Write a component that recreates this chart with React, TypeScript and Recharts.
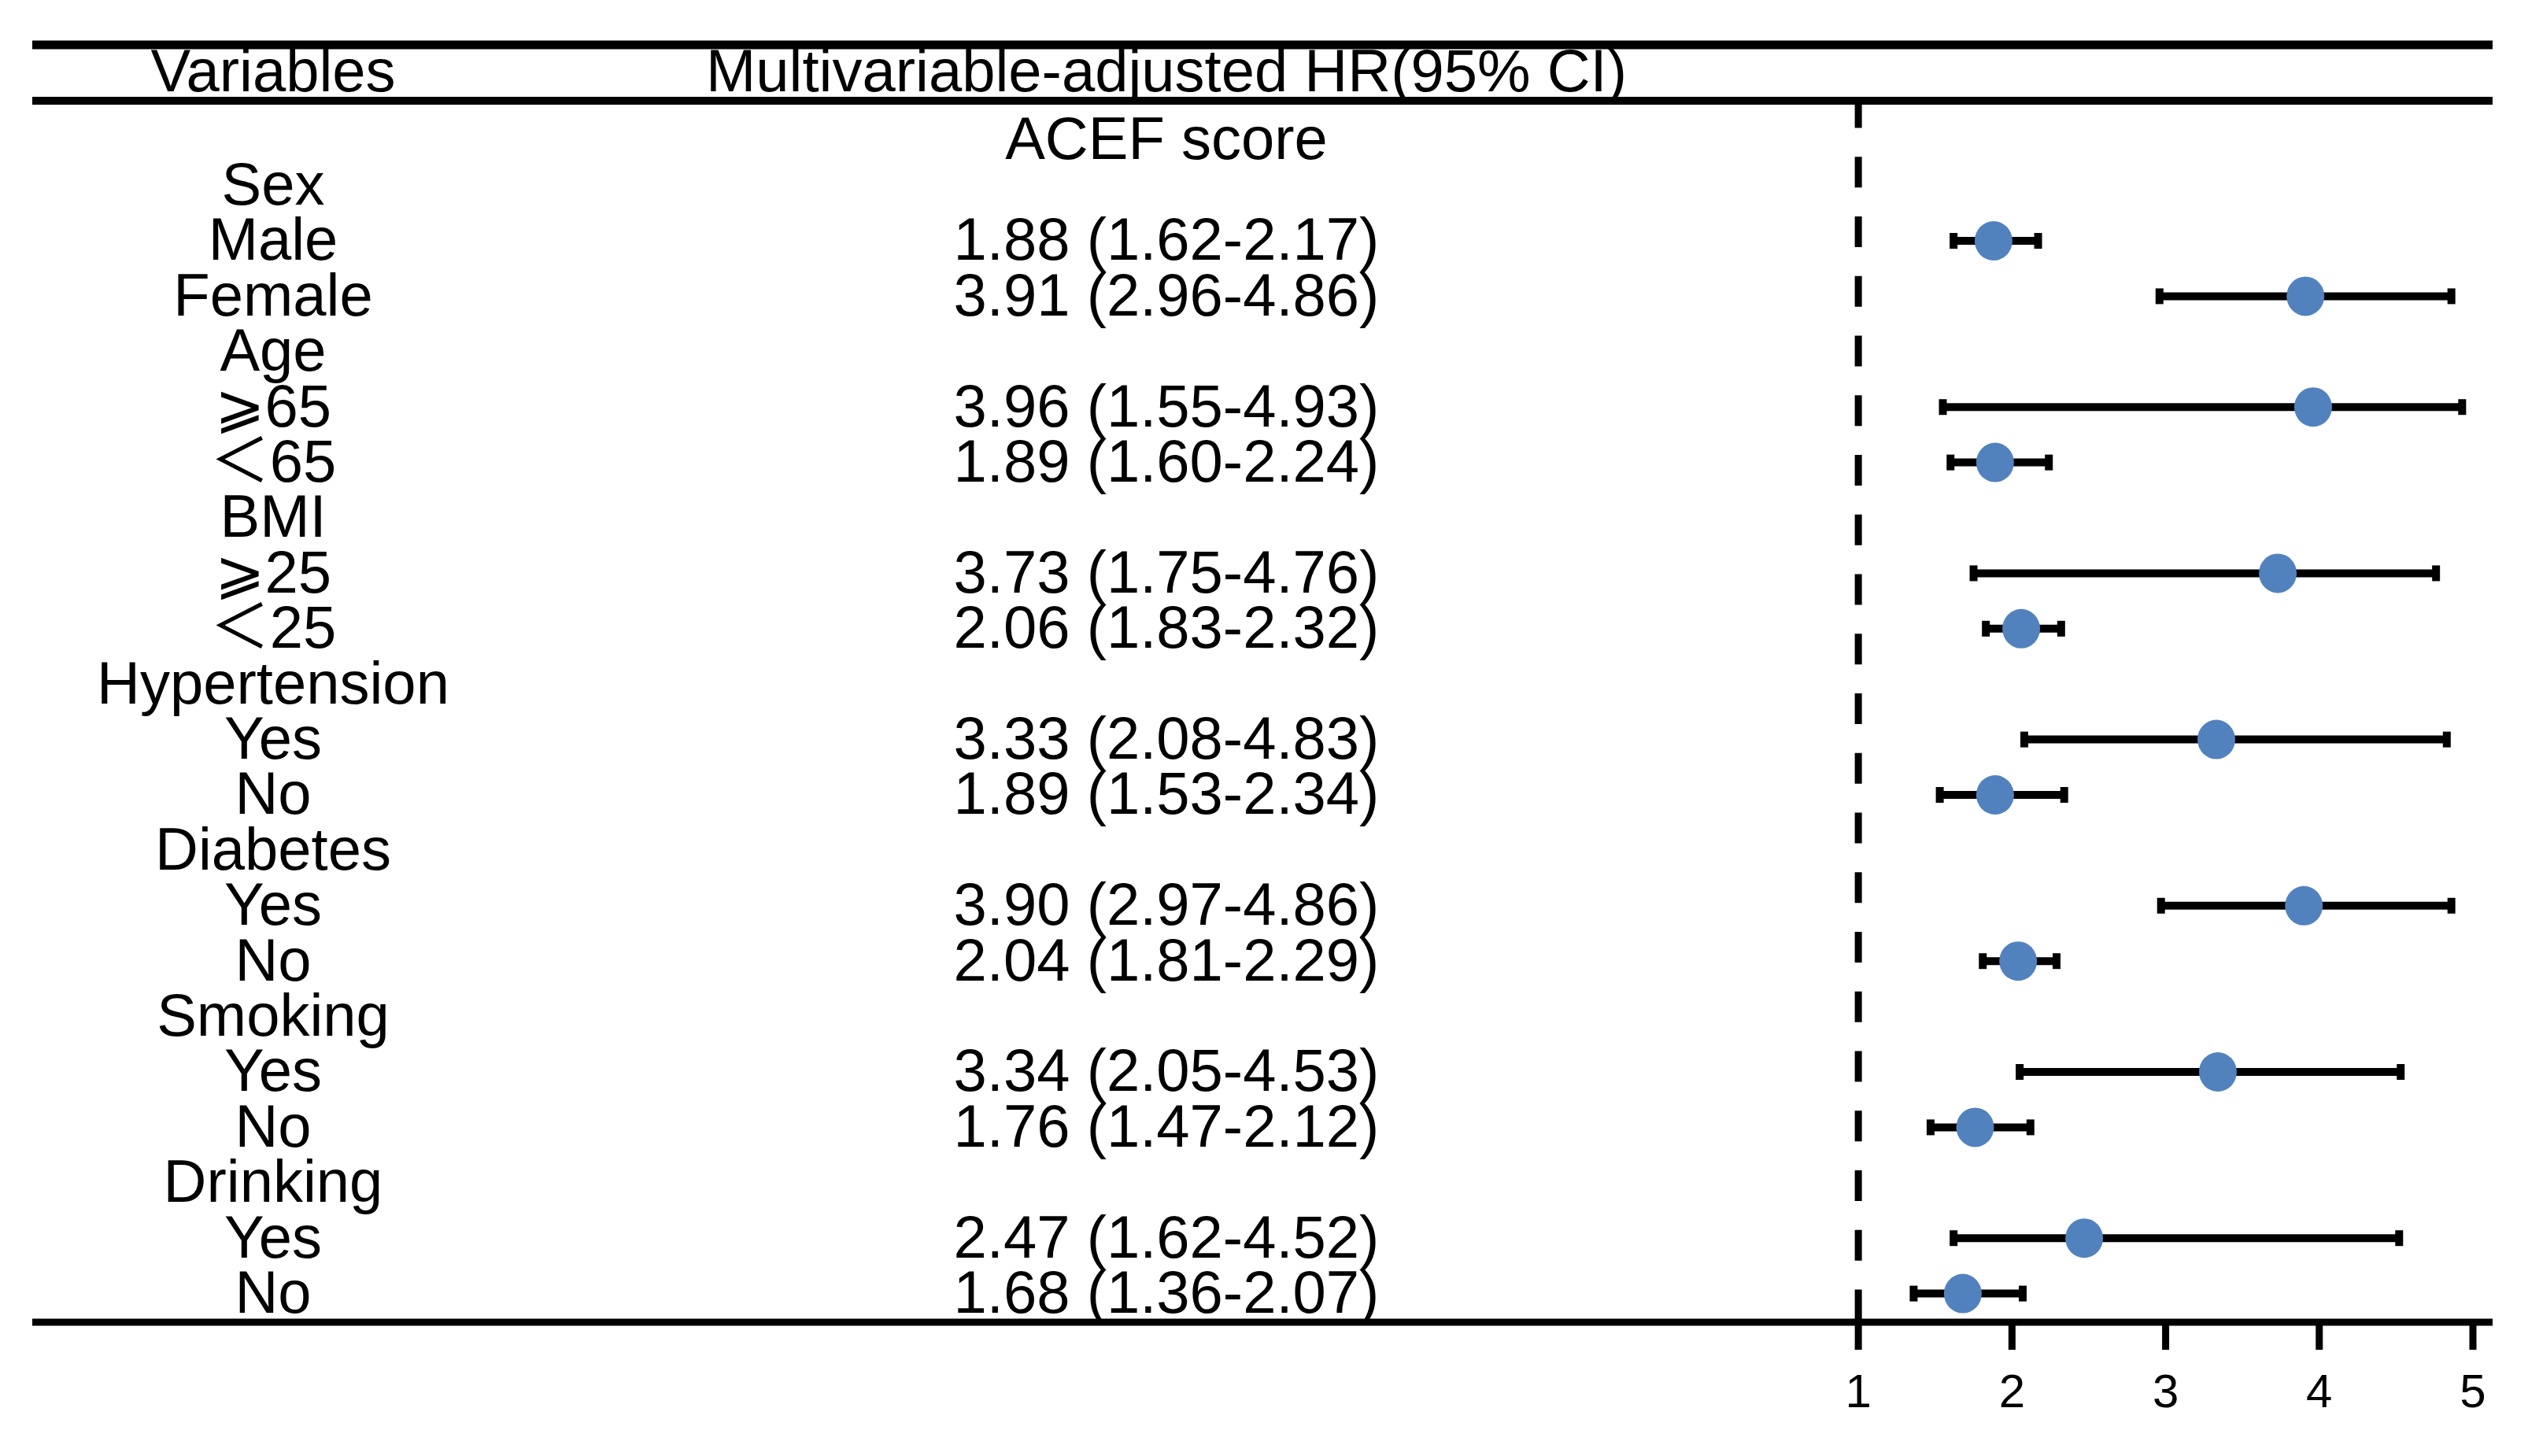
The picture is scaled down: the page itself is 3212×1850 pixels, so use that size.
import React from 'react'
import { ComposedChart, Scatter, ErrorBar, XAxis, YAxis, ReferenceLine } from 'recharts'

// table rows, top to bottom (group headers have no estimate)
const variables = [
  'Sex', 'Male', 'Female',
  'Age', '⩾65', '＜65',
  'BMI', '⩾25', '＜25',
  'Hypertension', 'Yes', 'No',
  'Diabetes', 'Yes', 'No',
  'Smoking', 'Yes', 'No',
  'Drinking', 'Yes', 'No',
]
const hr = [null, 1.88, 3.91, null, 3.96, 1.89, null, 3.73, 2.06, null, 3.33, 1.89, null, 3.9, 2.04, null, 3.34, 1.76, null, 2.47, 1.68]
const ciLow = [null, 1.62, 2.96, null, 1.55, 1.6, null, 1.75, 1.83, null, 2.08, 1.53, null, 2.97, 1.81, null, 2.05, 1.47, null, 1.62, 1.36]
const ciHigh = [null, 2.17, 4.86, null, 4.93, 2.24, null, 4.76, 2.32, null, 4.83, 2.34, null, 4.86, 2.29, null, 4.53, 2.12, null, 4.52, 2.07]
const xTicks = [1, 2, 3, 4, 5]
const headers = ['Variables', 'Multivariable-adjusted HR(95% CI)']
const sectionTitle = 'ACEF score'

const FONT = '"Liberation Sans", Arial, "DejaVu Sans", "Noto Sans CJK SC", sans-serif'
const BLUE = '#5282be'

// x axis runs under the whole table so the bottom rule is the axis line
const X_MIN = -10.885
const X_MAX = 5.128
const Y_MIN = -2.537
const Y_MAX = 20.517
const HEADER_ROW = -2.04
const RULE_ROW = -1.528
const SECTION_ROW = -0.82
const COL_VAR = 347
const COL_HR = 1482

const points = hr
  .map((v, i) =>
    v == null ? null : { x: v, y: i, err: [v - (ciLow[i] as number), (ciHigh[i] as number) - v] }
  )
  .filter(Boolean)

const rowTicks = [HEADER_ROW, SECTION_ROW, ...variables.map((_, i) => i)]

const fmt = (i: number) =>
  `${(hr[i] as number).toFixed(2)} (${(ciLow[i] as number).toFixed(2)}-${(ciHigh[i] as number).toFixed(2)})`

function RowTick(props: any) {
  const { y, payload } = props
  const v = payload.value
  let left = ''
  let mid = ''
  if (v === HEADER_ROW) {
    left = headers[0]
    mid = headers[1]
  } else if (v === SECTION_ROW) {
    mid = sectionTitle
  } else {
    left = variables[v]
    if (hr[v] != null) mid = fmt(v)
  }
  const style = { fontFamily: FONT, fontSize: 76, fill: '#000' }
  return (
    <g>
      <text x={COL_VAR} y={y} dy="0.32em" textAnchor="middle" {...style}>
        {left}
      </text>
      <text x={COL_HR} y={y} dy="0.32em" textAnchor="middle" {...style}>
        {mid}
      </text>
    </g>
  )
}

const Dot = (props: any) => {
  const { cx, cy } = props
  if (cx == null || cy == null) return null
  return <ellipse cx={cx} cy={cy} rx={24} ry={25} fill={BLUE} />
}

export default function App() {
  return (
    <div style={{ position: 'absolute', left: 0, top: 0, background: '#fff' }}>
      <ComposedChart
        width={3212}
        height={1850}
        margin={{ top: 57, right: 45, bottom: 70, left: 40 }}
      >
        <XAxis
          type="number"
          dataKey="x"
          domain={[X_MIN, X_MAX]}
          allowDataOverflow
          ticks={xTicks}
          interval={0}
          height={100}
          tickSize={35}
          tickMargin={30}
          axisLine={{ stroke: '#000', strokeWidth: 9 }}
          tickLine={{ stroke: '#000', strokeWidth: 9 }}
          tick={{ fontSize: 60, fill: '#000', fontFamily: FONT }}
        />
        <YAxis
          type="number"
          dataKey="y"
          domain={[Y_MIN, Y_MAX]}
          allowDataOverflow
          reversed
          ticks={rowTicks}
          interval={0}
          width={1}
          axisLine={false}
          tickLine={false}
          tick={RowTick}
        />
        <ReferenceLine y={Y_MIN} stroke="#000" strokeWidth={11} />
        <ReferenceLine y={RULE_ROW} stroke="#000" strokeWidth={10} />
        <ReferenceLine
          segment={[
            { x: 1, y: RULE_ROW },
            { x: 1, y: Y_MAX },
          ]}
          stroke="#000"
          strokeWidth={9}
          strokeDasharray="39 36.75"
          strokeDashoffset={4.5}
        />
        <Scatter data={points as any[]} shape={Dot} isAnimationActive={false}>
          <ErrorBar dataKey="err" direction="x" width={10} strokeWidth={10} stroke="#000" />
        </Scatter>
      </ComposedChart>
    </div>
  )
}
